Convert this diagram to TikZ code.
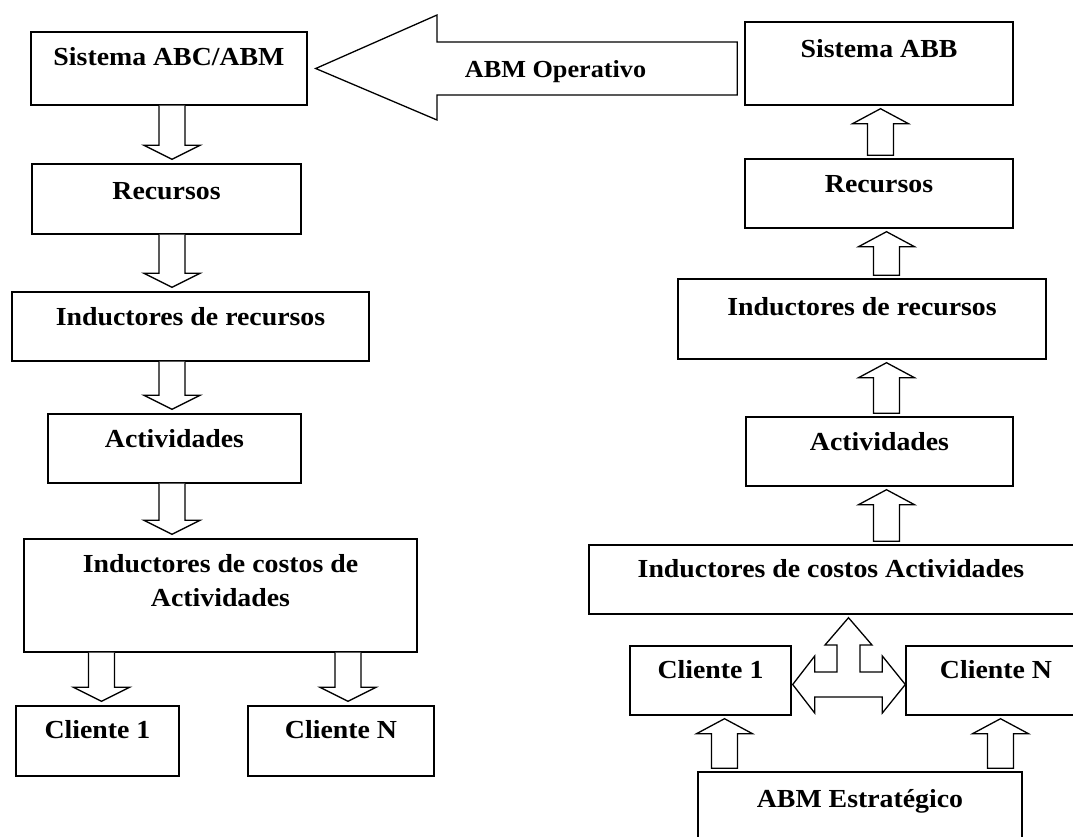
\documentclass[tikz,border=0pt]{standalone}
\usepackage{fontspec}
\newfontfamily\tnrfam{Liberation Serif}[FakeStretch=1.07]
\usetikzlibrary{calc}
\tikzset{
  box/.style={draw, line width=1.4pt, inner sep=0pt, fill=white,
    font=\tnrfam\bfseries\fontsize{26}{34}\selectfont, anchor=base},
  blk/.style={draw, line width=1.3pt, fill=white, line join=miter},
  lbl/.style={inner sep=0pt, anchor=base, font=\tnrfam\bfseries\fontsize{24.5}{30}\selectfont}
}
% block arrow pointing down, open shaft starting at the source box
\newcommand\ArrDn[3]{%
  \draw[blk] let \p1=(#1.south), \p2=(#2.north) in
   ({#3pt-13pt},\y1) -- ({#3pt-13pt},{\y2+18pt}) -- ({#3pt-28pt},{\y2+18pt})
   -- (#3pt,{\y2+4pt}) -- ({#3pt+28pt},{\y2+18pt}) -- ({#3pt+13pt},{\y2+18pt})
   -- ({#3pt+13pt},\y1);}
% closed block arrow pointing up
\newcommand\ArrUp[3]{%
  \draw[blk] let \p1=(#1.north), \p2=(#2.south) in
   ({#3pt-13pt},{\y1+3pt}) -- ({#3pt-13pt},{\y2-18pt}) -- ({#3pt-28pt},{\y2-18pt})
   -- (#3pt,{\y2-3pt}) -- ({#3pt+28pt},{\y2-18pt}) -- ({#3pt+13pt},{\y2-18pt})
   -- ({#3pt+13pt},{\y1+3pt}) -- cycle;}
\begin{document}
\begin{tikzpicture}[x=1pt,y=-1pt]
\clip (0,0) rectangle (1073,836);
\fill[white] (0,0) rectangle (1073,836);

% ---------- left column ----------
\node[box, minimum width=276pt, text height=33pt, text depth=40pt] (sysabc) at (169,65) {Sistema ABC/ABM};
\node[box, minimum width=269pt, text height=35pt, text depth=35pt] (rec1) at (166.5,199) {Recursos};
\node[box, minimum width=357pt, text height=33pt, text depth=36pt] (indrec1) at (190.5,325) {Inductores de recursos};
\node[box, minimum width=253pt, text height=33pt, text depth=36pt] (act1) at (174.5,447) {Actividades};
\node[box, minimum width=393pt, text height=33pt, text depth=80pt] (indcos1) at (220.5,572)
  {\begin{tabular}[t]{@{}c@{}}Inductores de costos de\\Actividades\end{tabular}};
\node[box, minimum width=163pt, text height=32pt, text depth=38pt] (cl1) at (97.5,738) {Cliente 1};
\node[box, minimum width=186pt, text height=32pt, text depth=38pt] (clN) at (341,738) {Cliente N};

\ArrDn{sysabc}{rec1}{172}
\ArrDn{rec1}{indrec1}{172}
\ArrDn{indrec1}{act1}{172}
\ArrDn{act1}{indcos1}{172}
\ArrDn{indcos1}{cl1}{101.5}
\ArrDn{indcos1}{clN}{348}

% ---------- right column ----------
\node[box, minimum width=268pt, text height=35pt, text depth=48pt] (sysabb) at (879,57) {Sistema ABB};
\node[box, minimum width=268pt, text height=33pt, text depth=36pt] (rec2) at (879,192) {Recursos};
\node[box, minimum width=368pt, text height=36pt, text depth=44pt] (indrec2) at (862,315) {Inductores de recursos};
\node[box, minimum width=267pt, text height=33pt, text depth=36pt] (act2) at (879.5,450) {Actividades};
\node[box, minimum width=504pt, text height=32pt, text depth=37pt] (indcos2) at (841,577)
  {\makebox[484pt][c]{Inductores de costos Actividades}\hspace*{20pt}};
\node[box, minimum width=161pt, text height=32pt, text depth=37pt] (cl1R) at (710.5,678) {Cliente 1};
\node[box, minimum width=180pt, text height=32pt, text depth=37pt] (clNR) at (996,678) {Cliente N};
\node[box, minimum width=324pt, text height=35pt, text depth=43pt] (abmE) at (860,807) {ABM Estratégico};

\ArrUp{rec2}{sysabb}{880.5}
\ArrUp{indrec2}{rec2}{886.5}
\ArrUp{act2}{indrec2}{886.5}
\ArrUp{indcos2}{act2}{886.5}
\ArrUp{abmE}{cl1R}{724.5}
\ArrUp{abmE}{clNR}{1000.5}

% three-way arrow between the clients and the cost drivers
\draw[blk] let \p1=(cl1R.east), \p2=(clNR.west), \p3=(indcos2.south) in
  ({\x1+1pt},-684.5pt) -- ({\x1+23pt},-656pt) -- ({\x1+23pt},-672pt)
  -- (837pt,-672pt) -- (837pt,-645pt) -- (825pt,-645pt)
  -- (848.5pt,{\y3-3pt})
  -- (872pt,-645pt) -- (860pt,-645pt) -- (860pt,-672pt)
  -- ({\x2-23pt},-672pt) -- ({\x2-23pt},-656pt) -- (\x2,-684.5pt)
  -- ({\x2-23pt},-713pt) -- ({\x2-23pt},-697pt)
  -- ({\x1+23pt},-697pt) -- ({\x1+23pt},-713pt) -- cycle;

% ---------- big arrow: ABM Operativo ----------
\draw[blk] let \p1=(sysabc.east), \p2=(sysabb.west) in
  ({\x1+8pt},\y1) -- (437pt,{\y1+53.5pt}) -- (437pt,{\y1+26.5pt})
  -- ({\x2-7pt},{\y1+26.5pt}) -- ({\x2-7pt},{\y1-26.5pt})
  -- (437pt,{\y1-26.5pt}) -- (437pt,{\y1-51.5pt}) -- cycle;
\node[lbl] (abmop) at (555.5,77) {ABM Operativo};
\end{tikzpicture}
\end{document}
